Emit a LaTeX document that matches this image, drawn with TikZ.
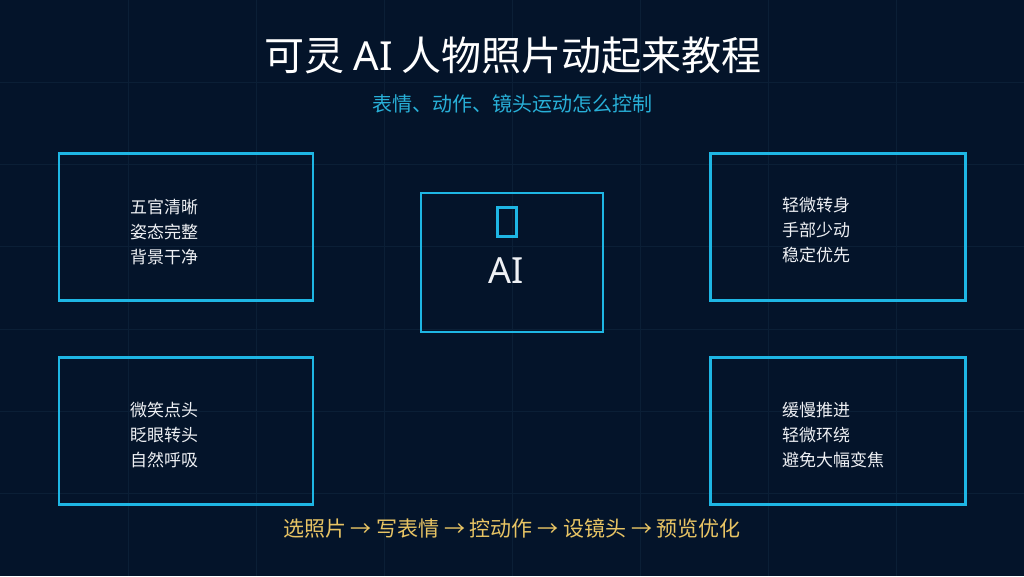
\documentclass[tikz,border=0pt]{standalone}
\usepackage{fontspec}
\setmainfont{Noto Sans CJK SC}
\newfontfamily\latn{Noto Sans}
\definecolor{bgc}{RGB}{4,20,42}
\definecolor{gridc}{RGB}{11,31,54}
\definecolor{cyanb}{RGB}{30,182,228}
\definecolor{subc}{RGB}{40,176,216}
\definecolor{goldc}{RGB}{232,196,100}
\definecolor{txtc}{RGB}{238,240,244}
\tikzset{
  panel/.style={draw=cyanb, line width=2.4pt, rectangle, inner sep=0pt},
  ptext/.style={text=txtc, anchor=west, inner sep=0pt, align=left, font=\fontsize{17}{25}\selectfont},
  gridline/.style={draw=gridc, line width=1pt}
}
\begin{document}
\begin{tikzpicture}[x=1pt,y=-1pt]
\fill[bgc] (0,0) rectangle (1024,576);
\useasboundingbox (0,0) rectangle (1024,576);
\foreach \i in {1,...,7} {\draw[gridline] (128*\i,0) -- (128*\i,576);}
\foreach \j in {1,...,6} {\draw[gridline] (0,576*\j/7) -- (1024,576*\j/7);}

\node[text=white, font=\fontsize{40}{48}\selectfont] (title) at (513,55) {可灵 {\latn AI} 人物照片动起来教程};
\node[text=subc, font=\fontsize{20}{24}\selectfont] (subtitle) at (512,104) {表情、动作、镜头运动怎么控制};

\node[panel, minimum width=254pt, minimum height=147pt] (tl) at (186,227) {};
\node[panel, minimum width=255pt, minimum height=147pt] (tr) at (838,227) {};
\node[panel, minimum width=254pt, minimum height=147pt] (bl) at (186,431) {};
\node[panel, minimum width=255pt, minimum height=147pt] (br) at (838,431) {};
\node[panel, minimum width=182pt, minimum height=139pt] (ctr) at (512,262.5) {};

\node[ptext] (tlt) at (130,232) {五官清晰\\姿态完整\\背景干净};
\node[ptext] (trt) at (782,230) {轻微转身\\手部少动\\稳定优先};
\node[ptext] (blt) at (130,435) {微笑点头\\眨眼转头\\自然呼吸};
\node[ptext] (brt) at (782,435) {缓慢推进\\轻微环绕\\避免大幅变焦};

\node[draw=cyanb, line width=3pt, minimum width=19pt, minimum height=29pt, inner sep=0pt] (icon) at (507,222) {};
\node[text=txtc, font=\latn\fontsize{36}{44}\selectfont] (ai) at (506,271) {AI};

\node[text=goldc, font=\fontsize{21}{26}\selectfont] (flow) at (512,528) {选照片 → 写表情 → 控动作 → 设镜头 → 预览优化};
\end{tikzpicture}
\end{document}
